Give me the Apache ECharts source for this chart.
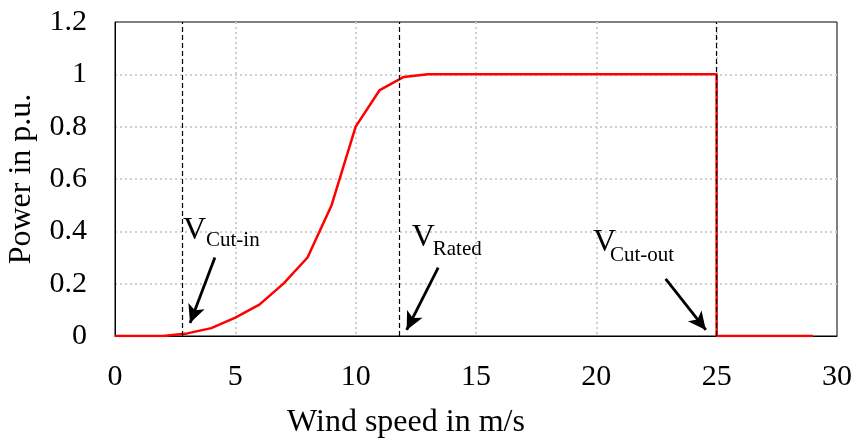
<!DOCTYPE html>
<html>
<head>
<meta charset="utf-8">
<script src="https://cdn.jsdelivr.net/npm/echarts@6/dist/echarts.min.js"></script>
<style>
  html, body { margin: 0; padding: 0; background: #fff; }
  #chart { width: 856px; height: 439px; }
</style>
</head>
<body>
<div id="chart"></div>
<script>
// wind turbine power curve
const windSpeed = [0, 1, 2, 3, 4, 5, 6, 7, 8, 9, 10, 11, 12, 13, 14, 15, 16, 17, 18, 19, 20, 21, 22, 23, 24, 25, 25, 26, 27, 28, 29];
const power = [0, 0, 0, 0.01, 0.03, 0.07, 0.12, 0.2, 0.3, 0.5, 0.8, 0.94, 0.99, 1, 1, 1, 1, 1, 1, 1, 1, 1, 1, 1, 1, 1, 0, 0, 0, 0, 0];

const xTicks = [0, 5, 10, 15, 20, 25, 30];
const yTicks = [0, 0.2, 0.4, 0.6, 0.8, 1, 1.2];

// characteristic speeds (dashed guides)
const guideNames = ['Cut-in', 'Rated', 'Cut-out'];
const guideSpeeds = [2.8, 11.8, 25];

// annotation label anchors and arrows [fromX, fromY, toX, toY]
const labelAnchors = [[2.825, 0.402], [12.33, 0.376], [19.86, 0.358]];
const arrows = [
  [4.15, 0.3, 3.12, 0.05],
  [13.43, 0.261, 12.12, 0.023],
  [22.88, 0.218, 24.55, 0.023]
];

const font = 'Liberation Serif, Times New Roman, serif';

const chart = echarts.init(document.getElementById('chart'));

const splitStyle = { color: '#cfcfcf', width: 2, type: [2, 3] };

// subscript placement relative to the "V"
const subShift = [[23, 10], [21, 12], [17, 13]];

const labelPoints = [];
labelAnchors.forEach((p, i) => {
  labelPoints.push({
    coord: p,
    label: { show: true, position: 'right', distance: 0, formatter: 'V',
      fontFamily: font, fontSize: 32, color: '#000' }
  });
  labelPoints.push({
    coord: p,
    label: { show: true, position: 'right', distance: 0, offset: subShift[i],
      formatter: guideNames[i], fontFamily: font, fontSize: 21, color: '#000' }
  });
});

const option = {
  animation: false,
  backgroundColor: '#fff',
  grid: {
    left: 115, right: 19, top: 22, bottom: 103,
    outerBoundsMode: 'none',
    containLabel: false,
    show: true, borderColor: '#000', borderWidth: 1
  },
  xAxis: {
    type: 'value',
    min: xTicks[0], max: xTicks[xTicks.length - 1], interval: 5,
    name: 'Wind speed in m/s',
    nameLocation: 'middle', nameGap: 71,
    nameTextStyle: { fontFamily: font, fontSize: 32, color: '#000', padding: [0, 140, 0, 0] },
    axisLine: { lineStyle: { color: '#000', width: 1 } },
    axisTick: { show: false },
    axisLabel: { fontFamily: font, fontSize: 30, color: '#000', margin: 26 },
    splitLine: { show: true, showMinLine: false, showMaxLine: false, lineStyle: splitStyle }
  },
  yAxis: {
    type: 'value',
    min: yTicks[0], max: yTicks[yTicks.length - 1], interval: 0.2,
    name: 'Power in p.u.',
    nameLocation: 'middle', nameGap: 77,
    nameTextStyle: { fontFamily: font, fontSize: 32, color: '#000' },
    axisLine: { show: true, lineStyle: { color: '#000', width: 1 } },
    axisTick: { show: false },
    axisLabel: { fontFamily: font, fontSize: 30, color: '#000', margin: 28 },
    splitLine: { show: true, showMinLine: false, showMaxLine: false, lineStyle: splitStyle }
  },
  series: [
    {
      // guides, arrows and labels
      type: 'line',
      data: [],
      z: 1,
      markLine: {
        silent: true,
        symbol: 'none',
        label: { show: false },
        lineStyle: { color: '#000', type: [5, 3], width: 1.2 },
        data: guideSpeeds.map(v => [{ coord: [v, 0] }, { coord: [v, 1.2] }])
          .concat(arrows.map(a => [
            { coord: [a[0], a[1]], symbol: 'none', lineStyle: { type: 'solid', width: 2.8 } },
            { coord: [a[2], a[3]], symbol: 'arrow', symbolSize: [13, 18] }
          ]))
      },
      markPoint: {
        silent: true,
        symbolSize: 0,
        data: labelPoints
      }
    },
    {
      type: 'line',
      data: windSpeed.map((x, i) => [x, power[i]]),
      showSymbol: false,
      symbol: 'none',
      z: 3,
      lineStyle: { color: '#ff0000', width: 2.5 }
    }
  ]
};

chart.setOption(option);
</script>
</body>
</html>
